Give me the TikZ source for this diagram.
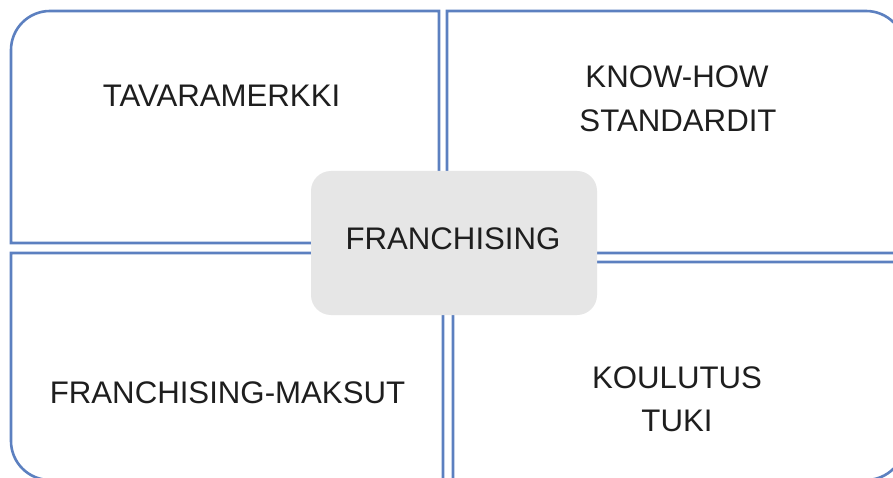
\documentclass[tikz,border=0pt]{standalone}
\usepackage{fontspec}
\setmainfont{Liberation Sans}
\definecolor{quadblue}{RGB}{92,128,192}
\definecolor{centergray}{RGB}{230,230,230}
\definecolor{txt}{RGB}{30,30,30}
\begin{document}
\begin{tikzpicture}[x=1pt,y=1pt,
  quad/.style={draw=quadblue,line width=2.6pt,fill=white,line join=miter},
  lbl/.style={anchor=base,inner sep=0pt,text=txt,font=\fontsize{31.2}{43}\selectfont}]
\useasboundingbox (0,0) rectangle (893,477);
\clip (0,0) rectangle (893,477);
% top-left
\draw[quad] (439,234) -- (11,234) -- (11,427) arc[start angle=180,end angle=90,radius=39] -- (439,466) -- cycle;
% top-right
\draw[quad] (447,224) -- (447,466) -- (866,466) arc[start angle=90,end angle=0,radius=39] -- (905,224) -- cycle;
% bottom-left
\draw[quad] (11,224) -- (443,224) -- (443,-3) -- (50,-3) arc[start angle=270,end angle=180,radius=39] -- cycle;
% bottom-right
\draw[quad] (453,215) -- (905,215) -- (905,36) arc[start angle=0,end angle=-90,radius=39] -- (453,-3) -- cycle;
% center
\node[fill=centergray,rounded corners=20pt,minimum width=286pt,minimum height=144pt,inner sep=0pt] (center) at (454,234) {};
\node[lbl] (franch) at (453,228) {FRANCHISING};
\node[lbl] (tavara) at (221.5,370) {TAVARAMERKKI};
\node[lbl] (know) at (677,389) {KNOW-HOW};
\node[lbl] (stand) at (678,345) {STANDARDIT};
\node[lbl] (maksut) at (227.5,74) {FRANCHISING-MAKSUT};
\node[lbl] (koul) at (677,89) {KOULUTUS};
\node[lbl] (tuki) at (677,46) {TUKI};
\end{tikzpicture}
\end{document}
